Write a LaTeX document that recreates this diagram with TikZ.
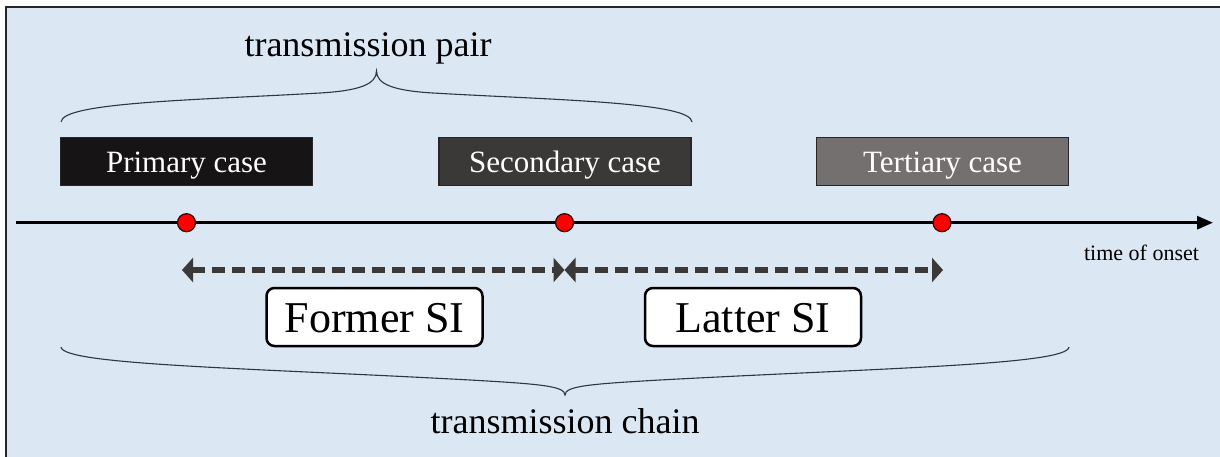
\documentclass[tikz,border=0pt]{standalone}
\usepackage{fontspec}
\setmainfont{Liberation Serif}
\usetikzlibrary{arrows.meta}
\definecolor{bgblue}{HTML}{DCE7F4}
\definecolor{caseA}{HTML}{161414}
\definecolor{caseB}{HTML}{3B3838}
\definecolor{caseC}{HTML}{757070}
\definecolor{siarrowcol}{HTML}{3B3838}
\definecolor{bracecol}{HTML}{2E3640}
\begin{document}
\begin{tikzpicture}[x=1pt,y=-1pt,
  casebox/.style={draw=black!85, line width=1.3pt, minimum width=252pt, minimum height=48pt,
    inner sep=0pt, text=white, font=\fontsize{31}{36}\selectfont, text height=23pt, text depth=0pt},
  sibox/.style={draw=black, line width=2.5pt, rounded corners=8pt, fill=white,
    minimum width=216pt, minimum height=58pt, inner sep=0pt,
    font=\fontsize{44}{50}\selectfont, text height=30pt, text depth=0pt},
  onsetdot/.style={circle, fill=red, draw=black!80!red, line width=1.2pt, minimum size=18pt, inner sep=0pt},
  siarrow/.style={draw=siarrowcol, line width=5.5pt, dash pattern=on 13pt off 7pt,
    {Triangle[length=11pt,width=24pt]}-{Triangle[length=11pt,width=24pt]}},
  bracestyle/.style={draw=bracecol, line width=1.1pt},
  labeltext/.style={font=\fontsize{36}{42}\selectfont, anchor=base, inner sep=0pt}
]
\useasboundingbox (0,0) rectangle (1220,457);
\fill[white] (0,0) rectangle (1220,457);
\fill[bgblue] (6,7) rectangle (1220,457);
\draw[black!85, line width=1.5pt] (6,457) -- (6,7) -- (1220,7);

% top brace
\draw[bracestyle] (61,122) .. controls (62,102) and (200,100) .. (320,93)
  .. controls (360,90.7) and (376.5,84) .. (376.5,71)
  .. controls (376.5,84) and (393,90.7) .. (433,93)
  .. controls (553,100) and (691,102) .. (692,122);
\node[labeltext] (pairlabel) at (368,57) {transmission pair};

% case boxes
\node[casebox, fill=caseA] (primary) at (186.5,161.5) {Primary case};
\node[casebox, fill=caseB] (secondary) at (565,161.5) {Secondary case};
\node[casebox, fill=caseC] (tertiary) at (942.5,161.5) {Tertiary case};

% timeline
\coordinate (t0) at (16,222.7);
\coordinate (t1) at (1213,222.7);
\draw[line width=3pt, -{Triangle[length=16pt,width=13pt]}] (t0) -- (t1);
\node[onsetdot] (d1) at (186.5,222.7) {};
\node[onsetdot] (d2) at (564.5,222.7) {};
\node[onsetdot] (d3) at (942,222.7) {};
\node[font=\fontsize{22}{26}\selectfont, anchor=base, inner sep=0pt] (onset) at (1141.5,260) {time of onset};

% serial intervals
\coordinate (a0) at (182,270);
\coordinate (a1) at (564.5,270);
\coordinate (a2) at (943,270);
\draw[siarrow] (a0) -- (a1);
\draw[siarrow] (a1) -- (a2);
\node[sibox] (former) at (374.5,317) {Former SI};
\node[sibox] (latter) at (753,317) {Latter SI};

% bottom brace
\draw[bracestyle] (61,347) .. controls (62,365) and (250,368) .. (470,380)
  .. controls (540,384) and (565,386) .. (565,395)
  .. controls (565,386) and (590,384) .. (660,380)
  .. controls (880,368) and (1068,365) .. (1069,347);
\node[labeltext] (chainlabel) at (565,433) {transmission chain};
\end{tikzpicture}
\end{document}
